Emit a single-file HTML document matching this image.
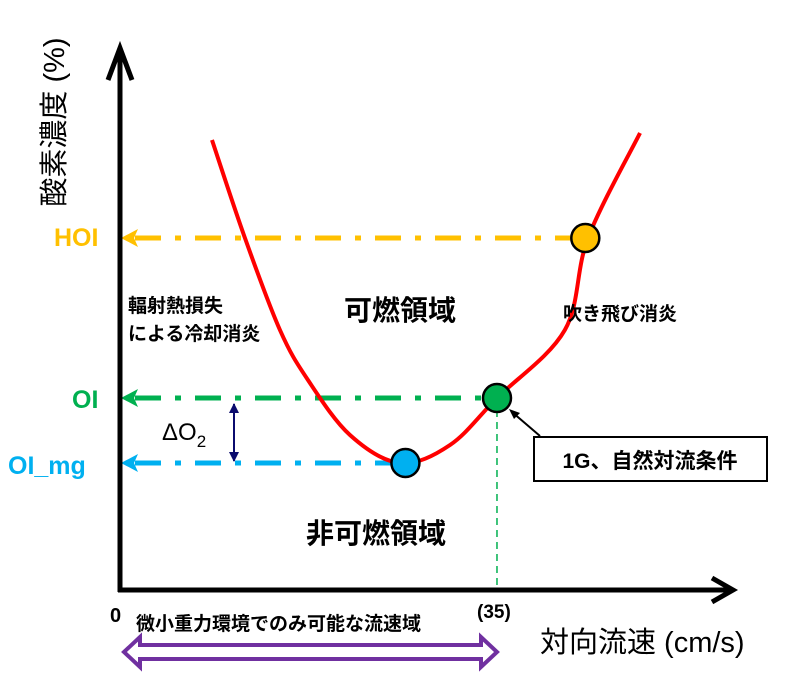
<!DOCTYPE html>
<html><head><meta charset="utf-8"><style>
html,body{margin:0;padding:0;background:#fff;}
svg{display:block;font-family:"Liberation Sans","Noto Sans CJK JP",sans-serif;}
</style></head><body>
<svg id="chart" width="790" height="680" viewBox="0 0 790 680" xmlns="http://www.w3.org/2000/svg">
<defs>
<marker id="ah" markerUnits="userSpaceOnUse" markerWidth="10" markerHeight="10" refX="9" refY="5" orient="auto-start-reverse"><path d="M0,0 L10,5 L0,10 z" fill="#0b0b6e"/></marker>
</defs>
<g id="plot"></g>
<g>
<line x1="120" y1="592" x2="120" y2="50" stroke="#000" stroke-width="5"/>
<polyline points="108,80 120,48 132,80" fill="none" stroke="#000" stroke-width="5"/>
</g>
<g>
<line x1="118" y1="590" x2="733" y2="590" stroke="#000" stroke-width="5"/>
<polyline points="712,578 733,590 712,602" fill="none" stroke="#000" stroke-width="5"/>
</g>
<text transform="translate(64,122) rotate(-90)" font-size="29" text-anchor="middle">酸素濃度 (%)</text>
<text x="540" y="652" font-size="29">対向流速 (cm/s)</text>
<text x="110" y="622" font-size="20" font-weight="bold">0</text>
<text x="477" y="618" font-size="19" font-weight="bold">(35)</text>
<text x="136" y="630" font-size="19" font-weight="bold">微小重力環境でのみ可能な流速域</text>
<g>
<path d="M124,652 L140,637 L140,645 L481,645 L481,637 L497,652 L481,667 L481,659 L140,659 L140,667 Z" fill="#fff" stroke="#7030a0" stroke-width="4" stroke-linejoin="miter"/>
</g>
<text x="54" y="246" font-size="25" font-weight="bold" fill="#ffc000">HOI</text>
<text x="72" y="408" font-size="25" font-weight="bold" fill="#00b050">OI</text>
<text x="8" y="474" font-size="25" font-weight="bold" fill="#00b0f0">OI_mg</text>
<text x="162" y="440" font-size="24">ΔO<tspan font-size="17" dy="7">2</tspan></text>
<line x1="234" y1="404" x2="234" y2="461" stroke="#0b0b6e" stroke-width="2" marker-start="url(#ah)" marker-end="url(#ah)"/>
<text x="128" y="312" font-size="19" font-weight="bold">輻射熱損失</text>
<text x="128" y="340" font-size="19" font-weight="bold">による冷却消炎</text>
<text x="344" y="320" font-size="28" font-weight="bold">可燃領域</text>
<text x="563" y="320" font-size="19" font-weight="bold">吹き飛び消炎</text>
<text x="306" y="543" font-size="28" font-weight="bold">非可燃領域</text>
<g>
<line x1="540" y1="436" x2="512" y2="412" stroke="#000" stroke-width="2"/>
<path d="M509,409 L520,413 L514,419 Z" fill="#000"/>
<rect x="534" y="437" width="233" height="44" fill="#fff" stroke="#000" stroke-width="2"/>
<text x="650" y="468" font-size="21" font-weight="bold" text-anchor="middle">1G、自然対流条件</text>
</g>
</svg>
<script>
var curveX=[8.54,11.6,14.85,17.45,21.35,26,30.64,35,41.3,43.45,48.28];
var curveY=[90,70.4,52,42,31,25.4,29,38.4,52,70.4,91.4];
var levelNames=["HOI","OI","OI_mg"];
var levelY=[70.4,38.4,25.4];
var levelX=[43.2,35,26.5];
var levelColors=["#ffc000","#00b050","#00b0f0"];
var refX=[35];
function sx(v){return 120+v*10.771;}
function sy(v){return 590-v*5;}
var NS="http://www.w3.org/2000/svg";
var g=document.getElementById('plot');
function mk(t,a){var e=document.createElementNS(NS,t);for(var k in a)e.setAttribute(k,a[k]);return e;}
var rl=mk('line',{x1:sx(refX[0]),y1:sy(levelY[1]),x2:sx(refX[0]),y2:590,stroke:'#00b050','stroke-width':1.5,'stroke-dasharray':'7,5'});


g.appendChild(rl);
for(var i=0;i<levelY.length;i++){
  var y=sy(levelY[i]);
  var l=mk('line',{x1:135,y1:y,x2:sx(levelX[i])-10,y2:y,stroke:levelColors[i],'stroke-width':5,'stroke-dasharray':'26,14,6,14'});
  
  
  g.appendChild(l);
  var a=mk('path',{d:'M121,'+y+' L138,'+(y-9)+' L134,'+y+' L138,'+(y+9)+' Z',fill:levelColors[i]});
  
  
  g.appendChild(a);
}
var pts=curveX.map(function(v,i){return [sx(v),sy(curveY[i])];});
var d='M'+pts[0][0]+','+pts[0][1];
for(var i=0;i<pts.length-1;i++){
  var p0=pts[i-1]||pts[i],p1=pts[i],p2=pts[i+1],p3=pts[i+2]||pts[i+1];
  d+=' C'+(p1[0]+(p2[0]-p0[0])/6)+','+(p1[1]+(p2[1]-p0[1])/6)+' '+(p2[0]-(p3[0]-p1[0])/6)+','+(p2[1]-(p3[1]-p1[1])/6)+' '+p2[0]+','+p2[1];
}
var c=mk('path',{d:d,fill:'none',stroke:'#ff0000','stroke-width':4});


g.appendChild(c);
for(var i=0;i<levelY.length;i++){
  var ci=mk('circle',{cx:sx(levelX[i]),cy:sy(levelY[i]),r:14,fill:levelColors[i],stroke:'#000','stroke-width':2.5});
  
  
  g.appendChild(ci);
}
</script>
</body></html>
